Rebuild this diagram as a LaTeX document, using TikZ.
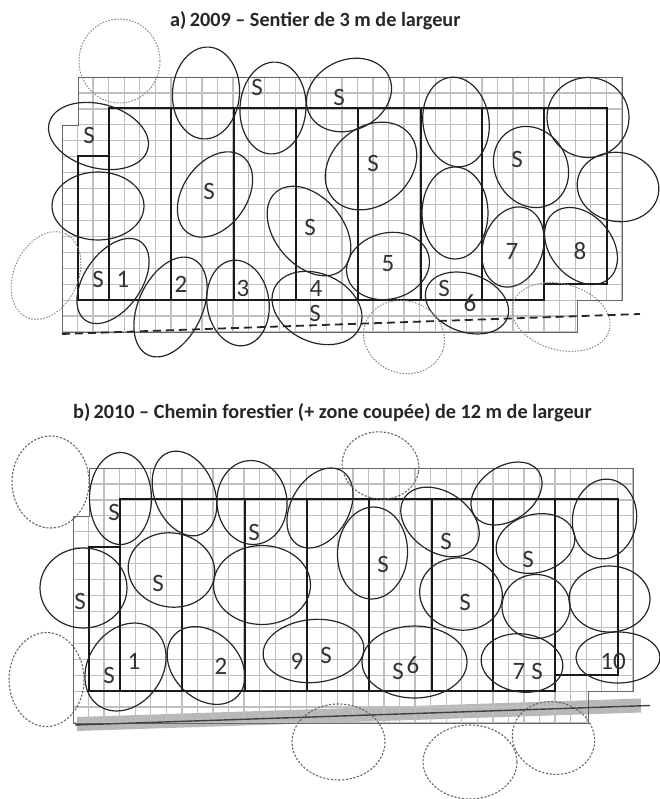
\documentclass[tikz,border=0pt]{standalone}
\usepackage{fontspec}
\setmainfont{Carlito}
\usepackage{tikz}
\usepackage{xcolor}

\begin{document}
\begin{tikzpicture}[
          x=1pt, y=-1pt,
          lbl/.style={font=\fontsize{25}{27}\selectfont, text=black!80, inner sep=0pt},
          ttl/.style={font=\fontsize{20.2}{23}\selectfont\bfseries, text=black!85, anchor=west, inner sep=0pt},
          gridline/.style={draw=black!25, line width=1.3pt},
          gridedge/.style={draw=black!60, line width=0.9pt},
          plotline/.style={draw=black!90, line width=1.7pt},
          crown/.style={draw=black!85, line width=1.2pt},
          outa/.style={draw=black!45, line width=1pt, dash pattern=on 1.6pt off 1.4pt},
          outb/.style={draw=black!60, line width=1.1pt, dash pattern=on 2.2pt off 1.6pt},
          road/.style={draw=black!85, line width=1.8pt, dash pattern=on 8pt off 5pt},
          band/.style={draw=black!28, line width=14pt},
          roadline/.style={draw=black!75, line width=1.4pt}
      ]
        \useasboundingbox (0,0) rectangle (659,799);
        \node[ttl] (titlea) at (170,20.5) {a)\,2009 – Sentier de 3 m de largeur};
        \node[ttl] (titleb) at (73,412.5) {b)\,2010 – Chemin forestier (+ zone coupée) de 12 m de largeur};

        % gravel band of panel b lies under the grid
        \coordinate (bandl) at (77,724);
        \coordinate (bandr) at (641,705.5);
        \draw[band] (bandl) -- (bandr);

        % same quadrat grid and plots in both panels
        \foreach \dx/\dy in {0/0, 11/391} {
          \begin{scope}[shift={(\dx,\dy)}]
            \begin{scope}
              \clip (78,77) -- (622,77) -- (622,300) -- (577,300) -- (577,332) -- (62,332) -- (62,125) -- (78,125) -- cycle;
              \foreach \i in {0,...,36}
                \draw[gridline] ({62+\i*15.55},77) -- ({62+\i*15.55},332);
              \foreach \j in {0,...,16}
                \draw[gridline] (62,{77+\j*15.94}) -- (622,{77+\j*15.94});
            \end{scope}
            \draw[gridedge] (78,77) -- (622,77) -- (622,300) -- (577,300) -- (577,332) -- (62,332) -- (62,125) -- (78,125) -- cycle;
            \draw[plotline] (78,156) -- (109,156) -- (109,108) -- (606.7,108) -- (606.7,284) -- (544,284) -- (544,300) -- (78,300) -- cycle;
            \foreach \px in {109,171,233.7,295.7,358,420.7,482,544}
              \draw[plotline] (\px,108) -- (\px,300);
          \end{scope}
        }

        % panel a
        \foreach \cx/\cy/\rx/\ry/\ang in {
            98.5/136/51/32/-15, 98/206/46/34/0, 113/281/48/28.5/55, 170.5/307/53/32/65,
            238/303/31/43/8, 317/308/47/34/-25, 309/231/51/34/-50, 388/266/42/33/15,
            371/166/50/39/40, 349/95/44/35/25, 273/108/33/46/-4, 206/93/33.5/46/-4,
            215/194.5/47/32/55, 456/122/33/45/8, 455/213/33/46/0, 513/247/41/30/72,
            581/246/43/31/-50, 531/167/42/36/-60, 588/117.5/41/40/0, 618/187/41/34.5/-10,
            467/303/43/29/-20} {
          \draw[crown] (\cx,\cy) circle[x radius=\rx, y radius=\ry, rotate=\ang];
        }
        \foreach \cx/\cy/\rx/\ry/\ang in {
            119.5/61/40.5/42/0, 46/275.5/46/32/65, 404/337/41/36/-20, 561/317/50/33/-15} {
          \draw[outa] (\cx,\cy) circle[x radius=\rx, y radius=\ry, rotate=\ang];
        }
        \coordinate (roadal) at (62,334);
        \coordinate (roadar) at (640,314);
        \draw[road] (roadal) -- (roadar);
        \foreach \tx/\ty/\txt [count=\n] in {
            89/135/S, 257/87/S, 209/191/S, 339/97/S, 373/163/S, 517/159/S, 310/227/S,
            98/279/S, 123/279/1, 181/284/2, 243/288/3, 316/288/4, 315/313/S, 388/264/5,
            444/288/S, 470/303/6, 512/251/7, 580/251/8} {
          \node[lbl] (a\n) at (\tx,\ty) {\txt};
        }

        % panel b
        \foreach \cx/\cy/\rx/\ry/\ang in {
            120.5/498.5/31/46/0, 184.5/493.5/30/44/22, 252/502.5/35/42/5, 320/508/43/29/60,
            171.5/570/43.5/37/-10, 262/585/48.5/39.5/0, 83.5/588/43.5/40/0, 125.5/667/47/37/55,
            206/665.5/44/33/-45, 313.5/651/50.5/31.5/5, 414.5/662/52.5/36/0, 522/663/41/29/-8,
            618/657.5/42/25.5/0, 461/594/41.5/36/-10, 536/606.5/34/32/0, 609.5/599/40.5/33/0,
            604.5/519/32/40/-8, 535.5/543.5/40/29/15, 506.5/493.5/39/27/35, 440/522/43/30/-35,
            372.5/553/35/46/-3} {
          \draw[crown] (\cx,\cy) circle[x radius=\rx, y radius=\ry, rotate=\ang];
        }
        \foreach \cx/\cy/\rx/\ry/\ang in {
            50.5/482/38.5/46/0, 380.5/465.5/38.5/33.5/-10, 46.5/679.5/37.5/47/0,
            338.5/742/46.5/38/0, 470/762/47/37/0, 553.5/738/41.5/36/-15} {
          \draw[outb] (\cx,\cy) circle[x radius=\rx, y radius=\ry, rotate=\ang];
        }
        \coordinate (roadbl) at (75,725);
        \coordinate (roadbr) at (650,705.5);
        \draw[roadline] (roadbl) -- (roadbr);
        \foreach \tx/\ty/\txt [count=\n] in {
            114/512/S, 158/583/S, 254/532/S, 80/601/S, 383/564/S, 446/541/S, 528/559/S, 465/602/S,
            109/675/S, 134/661/1, 221/666/2, 297/661/9, 326/655/S, 398/671/S, 413/665/6,
            519/671/7, 537/671/S, 613/661/10} {
          \node[lbl] (b\n) at (\tx,\ty) {\txt};
        }
      \end{tikzpicture}
\end{document}
